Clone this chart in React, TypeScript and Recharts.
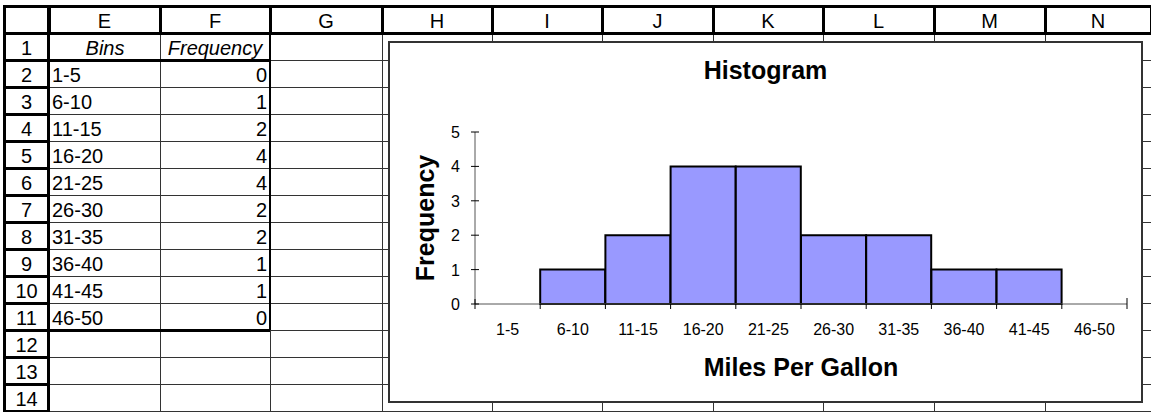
import { BarChart, Bar, XAxis, YAxis } from 'recharts';

// worksheet + chart data
const bins = ['1-5', '6-10', '11-15', '16-20', '21-25', '26-30', '31-35', '36-40', '41-45', '46-50'];
const frequency = [0, 1, 2, 4, 4, 2, 2, 1, 1, 0];
const yTicks = [0, 1, 2, 3, 4, 5];
const colLetters = ['E', 'F', 'G', 'H', 'I', 'J', 'K', 'L', 'M', 'N'];
const rowCount = 14;

const chartData = bins.map((bin, i) => ({ bin, freq: frequency[i] }));

const FONT = 'Arial, "Liberation Sans", Helvetica, sans-serif';
const GRID = '#333';

// sheet layout
const colEdges = [49, 160, 270, 382, 492, 602, 713, 823, 934, 1045, 1151];
const HEAD_TOP = 6;
const BODY_TOP = 33;
const ROW_H = 27;
const rowTop = (r: number) => BODY_TOP + (r - 1) * ROW_H;

// chart box
const CHART_LEFT = 388;
const CHART_TOP = 41;
const CHART_W = 755;
const CHART_H = 362;
const INNER_W = CHART_W - 4;
const INNER_H = CHART_H - 4;
const MARGIN = { top: 89, right: 14, bottom: 0, left: 0 };
const Y_AXIS_W = 85;
const PLOT_W = INNER_W - MARGIN.right - MARGIN.left - Y_AXIS_W;
const HALF_BAND = PLOT_W / bins.length / 2;

const Rule = ({ x, y, w, h, c = GRID }: { x: number; y: number; w: number; h: number; c?: string }) => (
  <div style={{ position: 'absolute', left: x, top: y, width: w, height: h, background: c }} />
);

const XTick = (props: any) => {
  const { x, y, payload, index, visibleTicksCount } = props;
  const last = index === visibleTicksCount - 1;
  return (
    <g>
      <line x1={x - HALF_BAND} x2={x - HALF_BAND} y1={index === 0 ? y - 5 : y} y2={y + 5} stroke="#000" />
      {last && <line x1={x + HALF_BAND} x2={x + HALF_BAND} y1={y - 6} y2={y + 5} stroke="#000" />}
      <text x={x} y={y + 31} textAnchor="middle" fontSize={16} fill="#000" fontFamily={FONT}>
        {payload.value}
      </text>
    </g>
  );
};

const YTick = (props: any) => {
  const { x, y, payload } = props;
  return (
    <g>
      <line x1={x - 4} x2={x + 4} y1={y} y2={y} stroke="#000" />
      <text x={x - 15} y={y + 6} textAnchor="end" fontSize={16} fill="#000" fontFamily={FONT}>
        {payload.value}
      </text>
    </g>
  );
};

const cellText = {
  position: 'absolute' as const,
  height: ROW_H,
  lineHeight: ROW_H + 'px',
  fontSize: 20,
  fontFamily: FONT,
  color: '#000',
  whiteSpace: 'nowrap' as const,
  paddingTop: 2,
  boxSizing: 'border-box' as const,
};

export default function App() {
  const rows = Array.from({ length: rowCount }, (_, i) => i + 1);
  return (
    <div style={{ position: 'absolute', left: 0, top: 0, width: 1151, height: 412, background: '#fff', overflow: 'hidden' }}>
      {/* body grid */}
      {colEdges.slice(1).map((x) => (
        <Rule key={'v' + x} x={x} y={BODY_TOP} w={1} h={412 - BODY_TOP} />
      ))}
      {rows.map((r) => (
        <Rule key={'h' + r} x={49} y={rowTop(r) + ROW_H} w={1151 - 49} h={1} />
      ))}

      {/* column headers */}
      <Rule x={3} y={HEAD_TOP - 1} w={1151 - 3} h={3} c="#000" />
      <Rule x={3} y={BODY_TOP - 1} w={1151 - 3} h={3} c="#000" />
      {colEdges.map((x) => (
        <Rule key={'hv' + x} x={x - 1} y={HEAD_TOP - 1} w={3} h={BODY_TOP - HEAD_TOP + 3} c="#000" />
      ))}
      {colLetters.map((c, i) => (
        <div key={c} style={{ ...cellText, left: colEdges[i], top: HEAD_TOP, width: colEdges[i + 1] - colEdges[i], textAlign: 'center' }}>
          {c}
        </div>
      ))}

      {/* row headers */}
      <Rule x={3} y={HEAD_TOP - 1} w={3} h={412} c="#000" />
      <Rule x={47} y={HEAD_TOP - 1} w={3} h={412} c="#000" />
      {rows.map((r) => (
        <Rule key={'rh' + r} x={3} y={rowTop(r) + ROW_H - 1} w={47} h={3} c="#000" />
      ))}
      {rows.map((r) => (
        <div key={'rn' + r} style={{ ...cellText, left: 5, top: rowTop(r), width: 43, textAlign: 'center' }}>
          {r}
        </div>
      ))}

      {/* bins / frequency table */}
      <Rule x={49} y={rowTop(2) - 1} w={221} h={3} c="#000" />
      <Rule x={49} y={rowTop(12) - 1} w={221} h={3} c="#000" />
      <Rule x={269} y={BODY_TOP} w={2} h={rowTop(12) - BODY_TOP} c="#000" />
      <div style={{ ...cellText, left: 50, top: rowTop(1), width: 110, textAlign: 'center', fontStyle: 'italic' }}>Bins</div>
      <div style={{ ...cellText, left: 160, top: rowTop(1), width: 110, textAlign: 'center', fontStyle: 'italic' }}>Frequency</div>
      {bins.map((b, i) => (
        <div key={'b' + b} style={{ ...cellText, left: 52, top: rowTop(i + 2), width: 105 }}>
          {b}
        </div>
      ))}
      {frequency.map((f, i) => (
        <div key={'f' + i} style={{ ...cellText, left: 160, top: rowTop(i + 2), width: 107, textAlign: 'right' }}>
          {f}
        </div>
      ))}

      {/* embedded chart */}
      <div
        style={{
          position: 'absolute',
          left: CHART_LEFT,
          top: CHART_TOP,
          width: CHART_W,
          height: CHART_H,
          border: '2px solid #333',
          boxSizing: 'border-box',
          background: '#fff',
        }}
      >
        <BarChart width={INNER_W} height={INNER_H} data={chartData} margin={MARGIN} barCategoryGap={0} barGap={0}>
          <text x={INNER_W / 2} y={36} textAnchor="middle" fontSize={25} fontWeight="bold" fill="#000" fontFamily={FONT}>
            Histogram
          </text>
          <XAxis
            dataKey="bin"
            interval={0}
            height={97}
            tickLine={false}
            tickSize={0}
            tickMargin={0}
            tick={<XTick />}
            axisLine={{ stroke: '#555' }}
            label={{
              value: 'Miles Per Gallon',
              position: 'insideTop',
              offset: 54,
              style: { fontSize: 25, fontWeight: 'bold', fill: '#000', fontFamily: FONT },
            }}
          />
          <YAxis
            width={Y_AXIS_W}
            domain={[0, 5]}
            ticks={yTicks}
            interval={0}
            tickLine={false}
            tickSize={0}
            tickMargin={0}
            tick={<YTick />}
            axisLine={{ stroke: '#555' }}
            label={{
              value: 'Frequency',
              angle: -90,
              position: 'insideLeft',
              offset: 35,
              style: { textAnchor: 'middle', fontSize: 25, fontWeight: 'bold', fill: '#000', fontFamily: FONT },
            }}
          />
          <Bar dataKey="freq" fill="#9999FF" stroke="#000" strokeWidth={2} isAnimationActive={false} />
        </BarChart>
      </div>
    </div>
  );
}
